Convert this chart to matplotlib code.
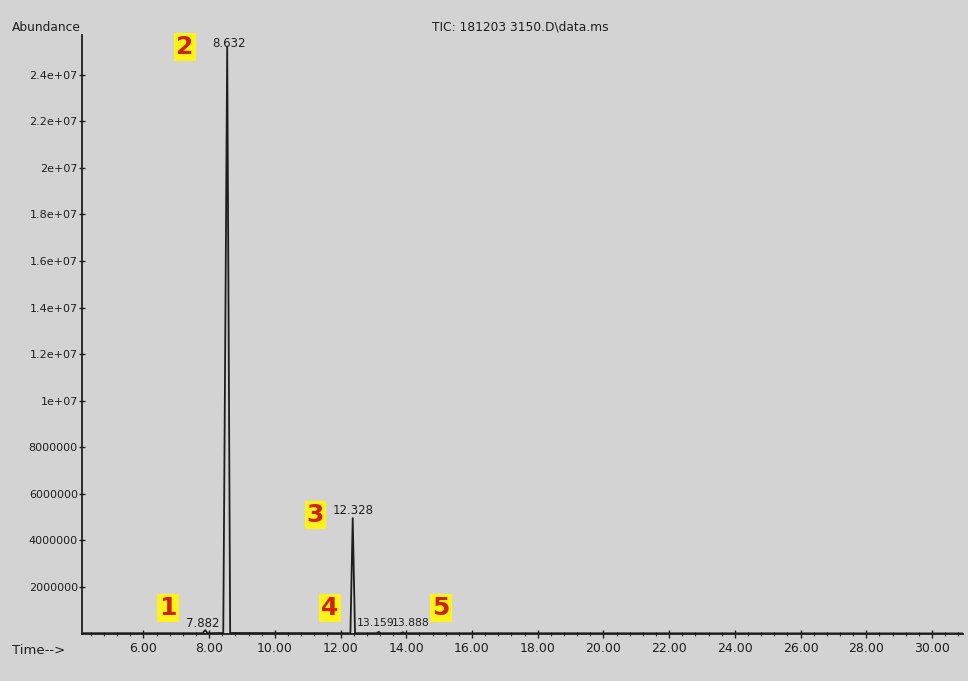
import matplotlib.pyplot as plt
from matplotlib.ticker import MultipleLocator

# chromatogram points (time in min, abundance)
times = [4.13, 7.80, 7.88, 7.95, 8.43, 8.55, 8.64, 12.30, 12.37, 12.44,
         13.10, 13.16, 13.22, 13.83, 13.89, 13.95, 30.95]
abund = [2e4, 2e4, 1.5e5, 2e4, 3e4, 2.52e7, 3e4, 2e4, 4.96e6, 2e4,
         2e4, 8e4, 2e4, 2e4, 6e4, 2e4, 1e4]

# retention time labels: text, x, y, size
rt_labels = ["8.632", "12.328", "7.882", "13.159", "13.888"]
rt_x = [8.60, 12.37, 7.82, 13.07, 14.14]
rt_y = [2.535e7, 5.3e6, 4.5e5, 4.5e5, 4.5e5]
rt_size = [8.5, 8.5, 8.5, 7.8, 7.8]

# yellow number markers
num_labels = ["1", "2", "3", "4", "5"]
num_x = [6.75, 7.27, 11.23, 11.68, 15.06]
num_y = [1.11e6, 2.52e7, 5.1e6, 1.11e6, 1.11e6]

yticks = [2e6, 4e6, 6e6, 8e6, 1e7, 1.2e7, 1.4e7, 1.6e7, 1.8e7, 2e7, 2.2e7, 2.4e7]
ytick_labels = ["2000000", "4000000", "6000000", "8000000", "1e+07", "1.2e+07",
                "1.4e+07", "1.6e+07", "1.8e+07", "2e+07", "2.2e+07", "2.4e+07"]
xticks = [6, 8, 10, 12, 14, 16, 18, 20, 22, 24, 26, 28, 30]

bg = "#d3d3d3"
ink = "#1e1e1e"

fig = plt.figure(figsize=(9.68, 6.81), dpi=100, facecolor=bg)
ax = fig.add_axes([0.0847, 0.0695, 0.9103, 0.8791], facecolor=bg)

ax.plot(times, abund, color=ink, lw=1.3)

ax.set_xlim(4.13, 30.95)
ax.set_ylim(0, 2.57e7)

for s in ["top", "right"]:
    ax.spines[s].set_visible(False)
for s in ["left", "bottom"]:
    ax.spines[s].set_color(ink)
    ax.spines[s].set_linewidth(1.3)

ax.set_xticks(xticks)
ax.set_xticklabels(["%.2f" % t for t in xticks])
ax.xaxis.set_minor_locator(MultipleLocator(0.4))
ax.set_yticks(yticks)
ax.set_yticklabels(ytick_labels)
ax.tick_params(axis="x", which="major", direction="inout", length=6, width=1,
               colors=ink, labelsize=9, pad=3)
ax.tick_params(axis="x", which="minor", direction="inout", length=3, width=0.8, colors=ink)
ax.tick_params(axis="y", direction="inout", length=4, width=1, colors=ink,
               labelsize=8, pad=1)

for t, x, y, fs in zip(rt_labels, rt_x, rt_y, rt_size):
    ax.text(x, y, t, ha="center", va="center", fontsize=fs, color=ink)

for t, x, y in zip(num_labels, num_x, num_y):
    ax.text(x, y, t, ha="center", va="center", fontsize=18, fontweight="bold",
            color="#cc2408",
            bbox=dict(boxstyle="square,pad=0.08", facecolor="#fff21a", edgecolor="none"))

fig.text(0.083, 0.960, "Abundance", ha="right", va="center", fontsize=8.8, color=ink)
fig.text(0.537, 0.960, "TIC: 181203 3150.D\\data.ms", ha="center", va="center",
         fontsize=8.8, color=ink)
fig.text(0.012, 0.045, "Time-->", ha="left", va="center", fontsize=9.5, color=ink)

fig.savefig("out.png", dpi=100, facecolor=bg)
